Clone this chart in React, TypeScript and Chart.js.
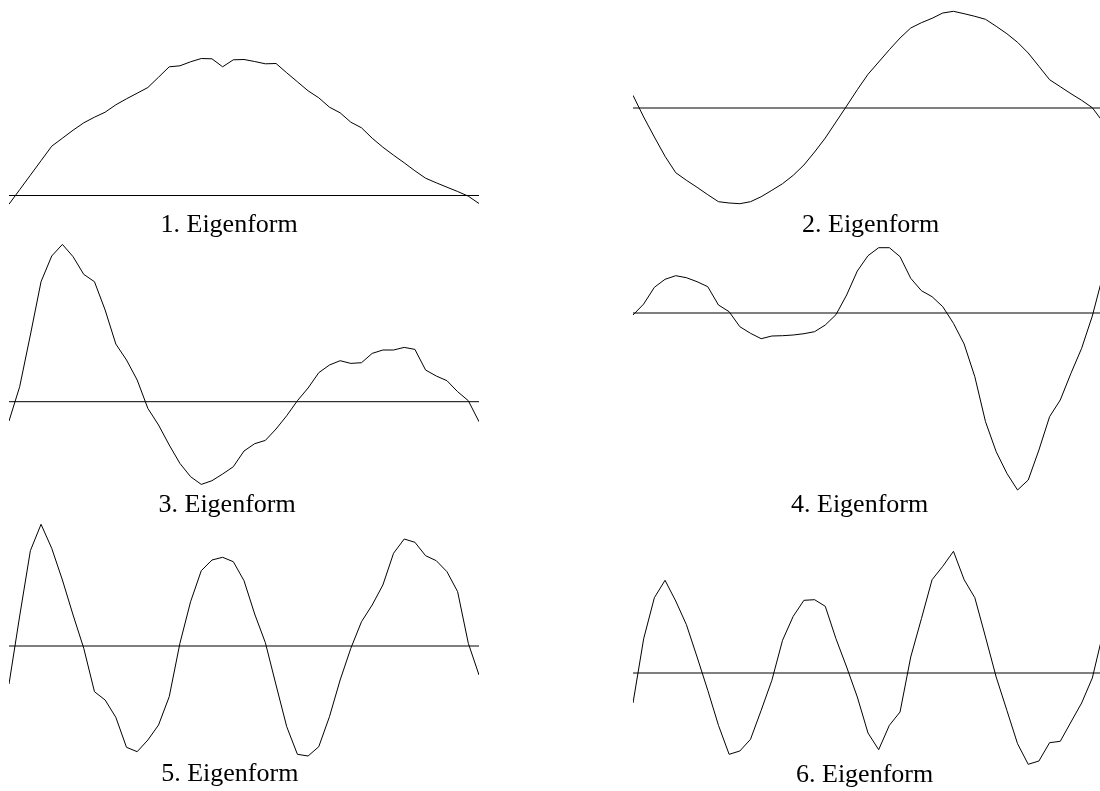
import React, { useEffect, useRef } from "react";
import { Chart, registerables } from "chart.js";

Chart.register(...registerables);

// Node numbers along the beam (45 nodes)
const NODES = [
  1, 2, 3, 4, 5, 6, 7, 8, 9, 10, 11, 12, 13, 14, 15, 16, 17, 18, 19, 20, 21, 22, 23,
  24, 25, 26, 27, 28, 29, 30, 31, 32, 33, 34, 35, 36, 37, 38, 39, 40, 41, 42, 43, 44, 45,
];

// Mode shape amplitudes per node
const MODE_1 = [
  -0.087, 0.058, 0.203, 0.348, 0.493, 0.573, 0.653, 0.727, 0.783, 0.833, 0.907, 0.967,
  1.023, 1.08, 1.183, 1.287, 1.297, 1.337, 1.37, 1.367, 1.287, 1.357, 1.36, 1.34, 1.317,
  1.32, 1.227, 1.137, 1.047, 0.977, 0.883, 0.827, 0.733, 0.677, 0.573, 0.483, 0.403,
  0.327, 0.247, 0.173, 0.127, 0.083, 0.04, -0.007, -0.08,
];

const MODE_2 = [
  0.127, -0.09, -0.29, -0.483, -0.647, -0.723, -0.793, -0.867, -0.937, -0.95, -0.957,
  -0.937, -0.887, -0.823, -0.757, -0.673, -0.57, -0.44, -0.3, -0.14, 0.02, 0.183, 0.337,
  0.46, 0.583, 0.7, 0.8, 0.853, 0.897, 0.95, 0.967, 0.943, 0.917, 0.887, 0.817, 0.743,
  0.657, 0.55, 0.417, 0.283, 0.213, 0.143, 0.077, 0.003, -0.14,
];

const MODE_3 = [
  -0.193, 0.15, 0.667, 1.2, 1.457, 1.573, 1.45, 1.273, 1.2, 0.917, 0.577, 0.417, 0.217,
  -0.067, -0.233, -0.433, -0.617, -0.75, -0.827, -0.79, -0.723, -0.65, -0.493, -0.42,
  -0.387, -0.273, -0.14, 0.01, 0.137, 0.29, 0.367, 0.41, 0.383, 0.39, 0.483, 0.517, 0.517,
  0.543, 0.523, 0.317, 0.257, 0.21, 0.1, 0.01, -0.2,
];

const MODE_4 = [
  -0.02, 0.09, 0.257, 0.337, 0.373, 0.353, 0.313, 0.263, 0.08, 0.013, -0.137, -0.203,
  -0.257, -0.23, -0.227, -0.22, -0.207, -0.187, -0.12, -0.017, 0.18, 0.42, 0.573, 0.653,
  0.653, 0.563, 0.347, 0.223, 0.163, 0.063, -0.103, -0.31, -0.637, -1.087, -1.387, -1.603,
  -1.77, -1.67, -1.37, -1.037, -0.87, -0.603, -0.353, -0.03, 0.38,
];

const MODE_5 = [
  -0.38, 0.3, 0.953, 1.217, 0.977, 0.66, 0.31, -0.023, -0.457, -0.54, -0.713, -1.013,
  -1.057, -0.94, -0.79, -0.507, 0.027, 0.443, 0.753, 0.86, 0.887, 0.843, 0.653, 0.32,
  0.033, -0.39, -0.807, -1.083, -1.1, -1.007, -0.707, -0.34, -0.023, 0.243, 0.41, 0.61,
  0.927, 1.07, 1.037, 0.903, 0.853, 0.743, 0.543, 0.027, -0.29,
];

const MODE_6 = [
  -0.3, 0.343, 0.753, 0.927, 0.72, 0.483, 0.16, -0.173, -0.523, -0.813, -0.78, -0.663,
  -0.373, -0.073, 0.327, 0.567, 0.727, 0.733, 0.667, 0.343, 0.06, -0.24, -0.6, -0.767,
  -0.523, -0.39, 0.16, 0.543, 0.933, 1.067, 1.217, 0.933, 0.753, 0.36, -0.04, -0.373,
  -0.707, -0.913, -0.88, -0.697, -0.683, -0.49, -0.3, -0.05, 0.4,
];

const TITLES = [
  "1. Eigenform",
  "2. Eigenform",
  "3. Eigenform",
  "4. Eigenform",
  "5. Eigenform",
  "6. Eigenform",
];

const MODES = [MODE_1, MODE_2, MODE_3, MODE_4, MODE_5, MODE_6];

// Panel placement (page pixels). zeroY is where the rest line sits.
const PX_PER_UNIT = 100;
const PANELS = [
  { left: 9, top: 0, width: 470, height: 215, zeroY: 195.5, labelX: 160.5, labelBase: 232.8 },
  { left: 633, top: 0, width: 470, height: 215, zeroY: 108, labelX: 802, labelBase: 233 },
  { left: 9, top: 236, width: 470, height: 260, zeroY: 401.7, labelX: 158.5, labelBase: 512.3 },
  { left: 633, top: 236, width: 470, height: 260, zeroY: 313, labelX: 791, labelBase: 512.3 },
  { left: 9, top: 516, width: 470, height: 250, zeroY: 646, labelX: 161.2, labelBase: 782 },
  { left: 633, top: 516, width: 470, height: 250, zeroY: 673, labelX: 796, labelBase: 782.5 },
];

const FONT = "'Liberation Serif', 'Times New Roman', Times, serif";
const FONT_SIZE = 26;

// Draws the horizontal rest position (value 0) across the plot area
const zeroLinePlugin = {
  id: "zeroLine",
  beforeDatasetsDraw(chart: any) {
    const { ctx, chartArea, scales } = chart;
    const y = scales.y.getPixelForValue(0);
    ctx.save();
    ctx.strokeStyle = "#000";
    ctx.lineWidth = 1;
    ctx.beginPath();
    ctx.moveTo(chartArea.left, y);
    ctx.lineTo(chartArea.right, y);
    ctx.stroke();
    ctx.restore();
  },
};

function ModePanel({ values, box }: { values: number[]; box: (typeof PANELS)[number] }) {
  const ref = useRef<HTMLCanvasElement | null>(null);

  useEffect(() => {
    const canvas = ref.current;
    if (!canvas) return;
    const max = (box.zeroY - box.top) / PX_PER_UNIT;
    const min = -(box.top + box.height - box.zeroY) / PX_PER_UNIT;
    const chart = new Chart(canvas, {
      type: "line",
      data: {
        labels: NODES,
        datasets: [
          {
            data: values,
            borderColor: "#000",
            borderWidth: 1,
            pointRadius: 0,
            tension: 0,
            fill: false,
            clip: 3,
          },
        ],
      },
      options: {
        responsive: false,
        animation: false,
        events: [],
        layout: { padding: 0 },
        plugins: { legend: { display: false }, tooltip: { enabled: false } },
        scales: {
          x: { display: false },
          y: { display: false, min, max },
        },
      },
      plugins: [zeroLinePlugin],
    });
    return () => chart.destroy();
  }, [values, box]);

  return (
    <canvas
      ref={ref}
      width={box.width}
      height={box.height}
      style={{
        position: "absolute",
        left: box.left,
        top: box.top,
        width: box.width,
        height: box.height,
      }}
    />
  );
}

export default function App() {
  return (
    <div
      style={{
        position: "absolute",
        left: 0,
        top: 0,
        width: 1100,
        height: 791,
        overflow: "hidden",
        background: "#fff",
      }}
    >
      {PANELS.map((box, i) => (
        <React.Fragment key={i}>
          <ModePanel values={MODES[i]} box={box} />
          <div
            style={{
              position: "absolute",
              left: box.labelX,
              top: box.labelBase - 21.8,
              fontFamily: FONT,
              fontSize: FONT_SIZE,
              lineHeight: `${FONT_SIZE}px`,
              whiteSpace: "nowrap",
              color: "#000",
            }}
          >
            {TITLES[i]}
          </div>
        </React.Fragment>
      ))}
    </div>
  );
}
